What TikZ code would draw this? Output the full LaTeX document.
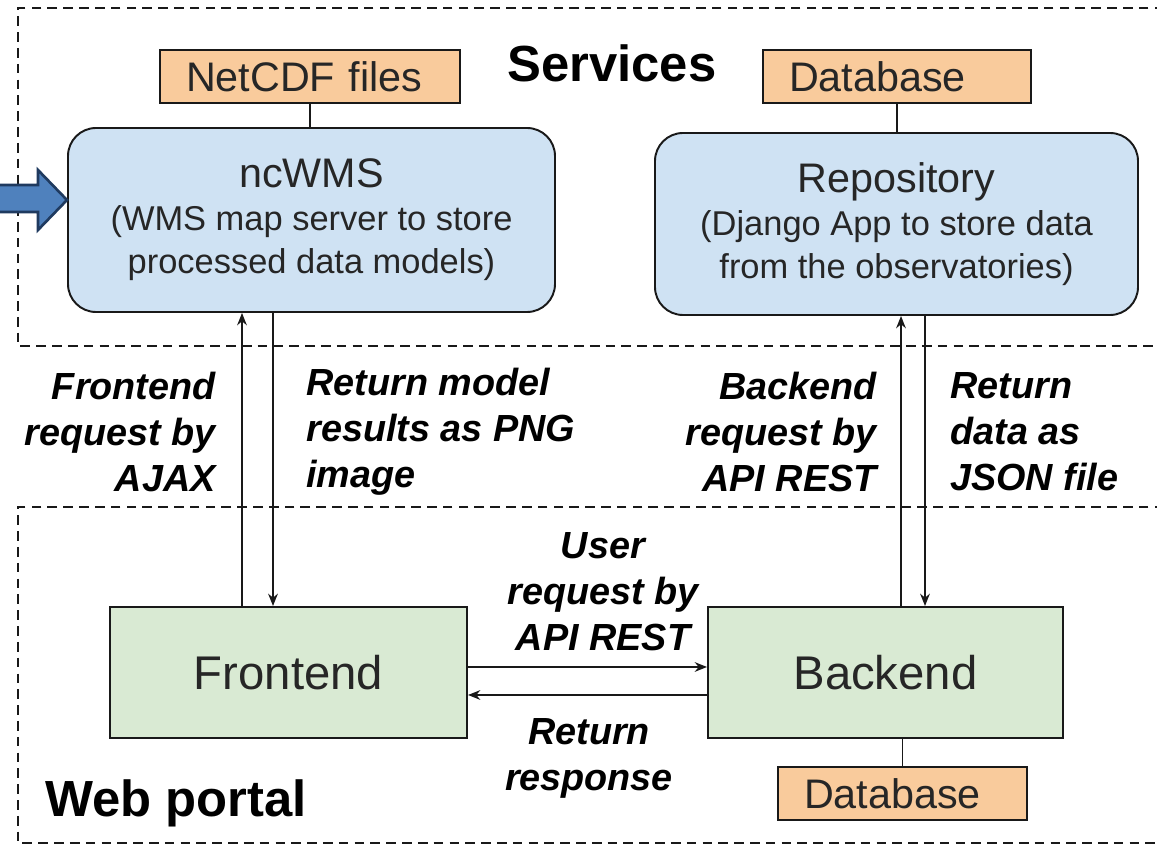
\documentclass[tikz,border=0pt]{standalone}
\usepackage{fontspec}
\setmainfont{Liberation Sans}
\usetikzlibrary{arrows.meta}

\definecolor{orangebox}{HTML}{F9CB9C}
\definecolor{bluebox}{HTML}{CFE2F3}
\definecolor{greenbox}{HTML}{D9EAD3}
\definecolor{feedfill}{HTML}{4F81BD}
\definecolor{feedline}{HTML}{1F3A5F}

\begin{document}
\begin{tikzpicture}[
  zone/.style={draw=black!90, line width=1.2pt, dash pattern=on 5.5pt off 3.5pt},
  store/.style={draw=black!90, line width=1.1pt, fill=orangebox, text=black!85,
    inner xsep=0.52cm, align=left, minimum height=1.06cm,
    font=\fontsize{23.5}{28}\selectfont},
  service/.style={draw=black!90, line width=1.1pt, fill=bluebox, text=black!85,
    rounded corners=0.56cm, minimum width=9.74cm, minimum height=3.68cm,
    align=center, font=\fontsize{19.6}{24.4}\selectfont},
  portal/.style={draw=black!90, line width=1.1pt, fill=greenbox, text=black!85,
    minimum width=7.14cm, minimum height=2.62cm,
    font=\fontsize{26.9}{30}\selectfont},
  title/.style={inner sep=0pt, font=\bfseries\fontsize{28.9}{34}\selectfont},
  note/.style={inner sep=0pt, font=\bfseries\itshape\fontsize{21.5}{26.1}\selectfont},
  link/.style={draw=black!90, line width=1pt},
  flow/.style={link, -{Stealth[length=7pt,width=5.5pt]}}
]
\useasboundingbox (0,0) rectangle (23.14,16.94);

% the two areas
\draw[zone] (23.6,16.78) -- (0.36,16.78) -- (0.36,10.02) -- (23.6,10.02);
\draw[zone] (23.6,6.8) -- (0.36,6.8) -- (0.36,0.08) -- (23.6,0.08);
\node[title, anchor=base] (svc) at (12.24,15.3) {Services};
\node[title, anchor=base west] (web) at (0.9,0.6) {Web portal};

% services
\node[store, text width=4.96cm] (netcdf) at (6.2,15.41) {NetCDF files};
\node[store, text width=4.32cm] (dbtop) at (17.94,15.41) {Database};
\node[service] (ncwms) at (6.23,12.54)
  {{\fontsize{23.5}{24.4}\selectfont ncWMS}\\(WMS map server to store\\processed data models)};
\node[service, minimum width=9.66cm, minimum height=3.64cm] (repo) at (17.93,12.46)
  {{\fontsize{23.5}{24.4}\selectfont Repository}\\(Django App to store data\\from the observatories)};

\path[link] (netcdf.south) -- (netcdf.south |- ncwms.north);
\path[link] (dbtop.south) -- (dbtop.south |- repo.north);

% web portal
\node[portal] (front) at (5.77,3.49) {Frontend};
\node[portal, minimum width=7.1cm] (back) at (17.71,3.49) {Backend};
\node[store, text width=3.94cm] (dbbot) at (18.05,1.07) {Database};

\path[link] (dbbot.north) -- (dbbot.north |- back.south);

% requests and answers
\path[flow] ([xshift=-0.93cm]front.north) -- ([xshift=-0.93cm]front.north |- ncwms.south);
\path[flow] ([xshift=-0.31cm]front.north |- ncwms.south) -- ([xshift=-0.31cm]front.north);
\path[flow] ([xshift=0.31cm]back.north) -- ([xshift=0.31cm]back.north |- repo.south);
\path[flow] ([xshift=0.79cm]back.north |- repo.south) -- ([xshift=0.79cm]back.north);
\path[flow] ([yshift=0.11cm]front.east) -- ([yshift=0.11cm]front.east -| back.west);
\path[flow] ([yshift=-0.45cm]back.west) -- ([yshift=-0.45cm]back.west -| front.east);

\node[note, align=right, anchor=east] (ajax) at (4.32,8.3) {Frontend\\request by\\AJAX};
\node[note, align=left, anchor=west] (png) at (6.12,8.3) {Return model\\results as PNG\\image};
\node[note, align=right, anchor=east] (rest) at (17.54,8.3) {Backend\\request by\\API REST};
\node[note, align=left, anchor=west] (json) at (19.0,8.3) {Return\\data as\\JSON file};
\node[note, align=center] (user) at (12.06,5.1) {User\\request by\\API REST};
\node[note, align=center] (resp) at (11.78,1.78) {Return\\response};

% incoming block arrow
\draw[line width=1.5pt, draw=feedline, fill=feedfill, line join=miter]
  (-0.3,13.24) -- (0.76,13.24) -- (0.76,13.54) -- (1.34,12.94)
  -- (0.76,12.34) -- (0.76,12.7) -- (-0.3,12.7) -- cycle;
\end{tikzpicture}
\end{document}
